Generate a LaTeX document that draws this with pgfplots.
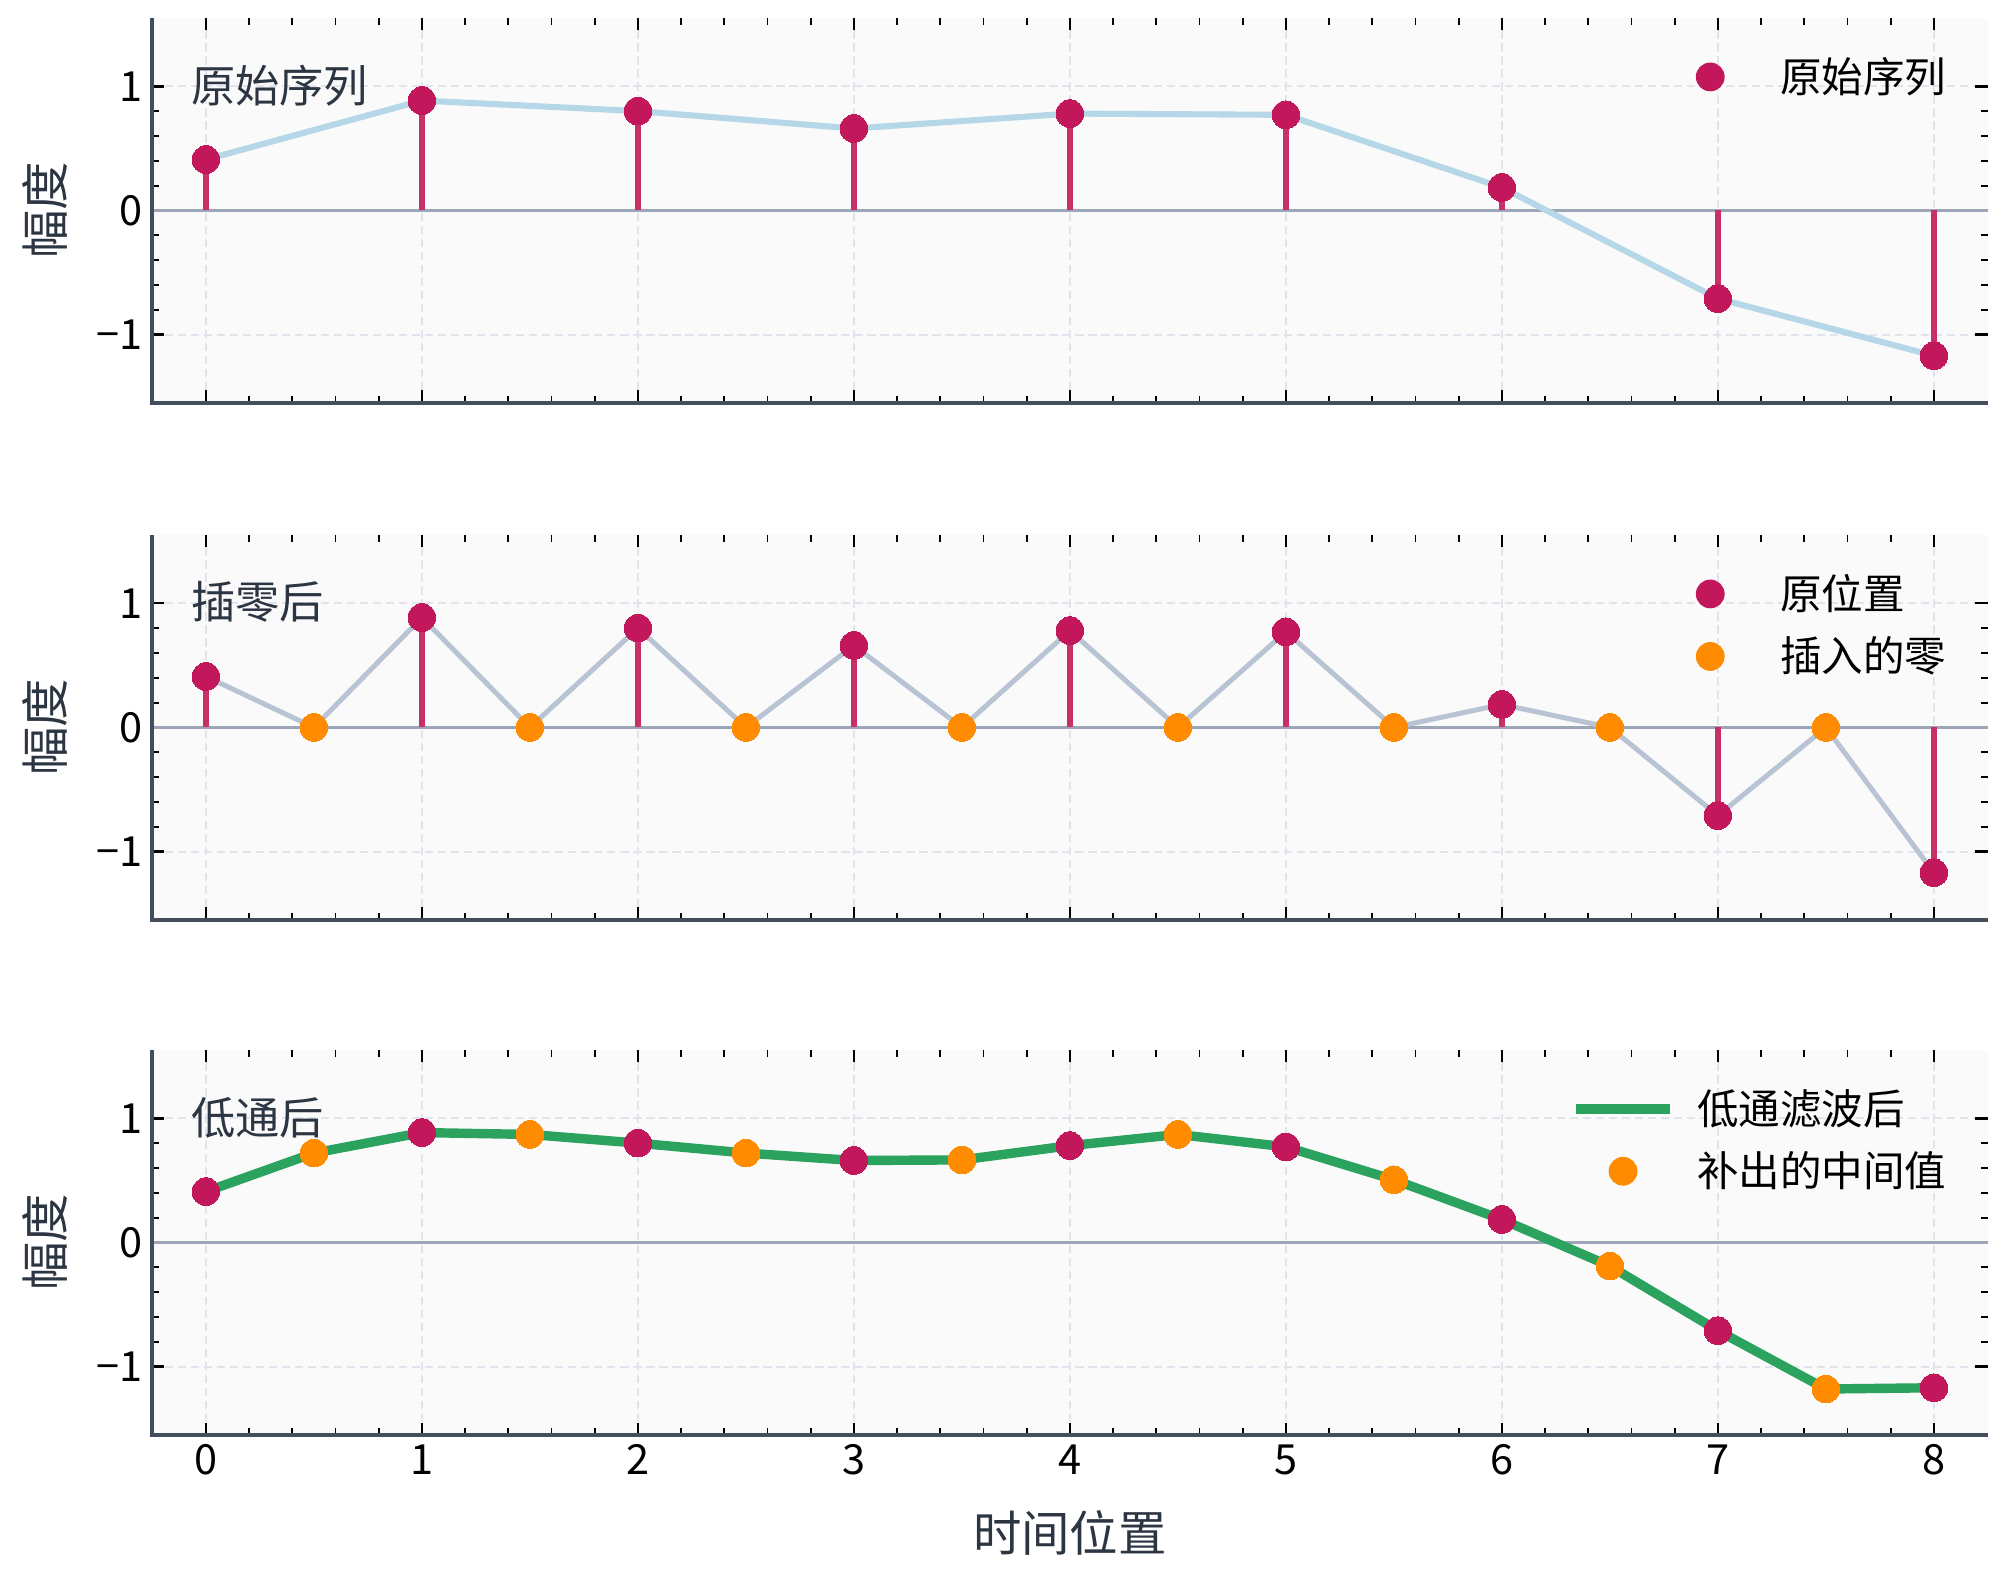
\documentclass[border=0pt]{standalone}
\usepackage{fontspec}
\setmainfont{Noto Sans CJK SC}
\usepackage{pgfplots}
\usepackage{pgfplotstable}
\pgfplotsset{compat=1.18}

\definecolor{crim}{HTML}{C2185B}
\definecolor{stemc}{HTML}{C83069}
\definecolor{origline}{HTML}{B5D7E8}
\definecolor{zeroline}{HTML}{B8C3D3}
\definecolor{lowc}{HTML}{2CA25F}
\definecolor{orng}{HTML}{FF8C00}
\definecolor{basec}{HTML}{9CA6B6}
\definecolor{gridc}{HTML}{E1E4ED}
\definecolor{spinec}{HTML}{434D5C}
\definecolor{bgc}{HTML}{FAFAFB}
\definecolor{labc}{HTML}{2C3542}

% original samples
\pgfplotstableread{
x y
0 0.41
1 0.885
2 0.80
3 0.66
4 0.78
5 0.77
6 0.185
7 -0.71
8 -1.17
}\orig

% inserted zeros
\pgfplotstableread{
x y
0.5 0
1.5 0
2.5 0
3.5 0
4.5 0
5.5 0
6.5 0
7.5 0
}\zeros

% upsampled sequence (samples interleaved with zeros)
\pgfplotstableread{
x y
0 0.41
0.5 0
1 0.885
1.5 0
2 0.80
2.5 0
3 0.66
3.5 0
4 0.78
4.5 0
5 0.77
5.5 0
6 0.185
6.5 0
7 -0.71
7.5 0
8 -1.17
}\upsampled

% low-pass output
\pgfplotstableread{
x y
0 0.41
0.5 0.72
1 0.885
1.5 0.87
2 0.80
2.5 0.72
3 0.66
3.5 0.665
4 0.78
4.5 0.87
5 0.77
5.5 0.505
6 0.185
6.5 -0.19
7 -0.71
7.5 -1.18
8 -1.17
}\lowpass

% interpolated mid points of the low-pass output
\pgfplotstableread{
x y
0.5 0.72
1.5 0.87
2.5 0.72
3.5 0.665
4.5 0.87
5.5 0.505
6.5 -0.19
7.5 -1.18
}\midpts

\pgfplotsset{
  panel/.style={
    scale only axis, width=663.4pt, height=139.1pt,
    xmin=-0.25, xmax=8.25, ymin=-1.55, ymax=1.55,
    xtick={0,...,8}, ytick={-1,0,1},
    yticklabels={−1,0,1},
    minor x tick num=4, minor y tick num=4,
    tick align=inside, tick pos=both,
    xticklabel pos=lower, yticklabel pos=left,
    major tick length=4.5pt, minor tick length=2.4pt,
    every major tick/.append style={line width=0.9pt, black},
    every minor tick/.append style={line width=0.7pt, black},
    axis line style={draw=none},
    axis background/.style={fill=bgc},
    grid=major,
    major grid style={gridc, line width=0.8pt, dash pattern=on 3pt off 1.7pt},
    tick label style={font=\fontsize{15}{18}\selectfont, text=black},
    every axis y label/.style={at={([xshift=-38.7pt]axis description cs:0,0.5)}, anchor=center, rotate=90, font=\fontsize{17.5}{21}\selectfont, text=labc},
    ylabel={幅度},
    clip=false,
    legend cell align=left,
    legend style={at={(rel axis cs:0.9852,0.928)}, anchor=north east, draw=none, fill=none,
      font=\fontsize{15}{18}\selectfont, row sep=4.4pt},
  },
  dotleg/.style={legend image code/.code={\path (0pt,0pt) (40pt,0pt); \fill[#1] (16.9pt,0pt) circle (5pt);}},
  dots/.style={only marks, mark=*, mark size=5pt, mark options={fill=#1, draw=#1, line width=0pt}},
}

\newcommand{\panelframe}{%
  \addplot[basec, line width=1.1pt, forget plot] coordinates {(-0.25,0) (8.25,0)};
  \draw[spinec, line width=1.6pt] (rel axis cs:0,1) -- (rel axis cs:0,0) -- (rel axis cs:1,0);
}

\begin{document}
\begin{tikzpicture}
% page frame
\path (-54.9pt,6.5pt) rectangle (670.3pt,-565.2pt);

% top panel: original sequence
\begin{axis}[panel, at={(0pt,0pt)}, anchor=north west, xticklabels={}]
  \panelframe
  \addplot[origline, line width=2.2pt, forget plot] table[x=x,y=y] {\orig};
  \addplot[ycomb, stemc, line width=2.4pt, forget plot] table[x=x,y=y] {\orig};
  \addplot[dots=crim, dotleg=crim] table[x=x,y=y] {\orig};
  \addlegendentry{原始序列}
  \node[anchor=west, inner sep=0pt, font=\fontsize{16}{19}\selectfont, text=labc] at (rel axis cs:0.021,0.825) {原始序列};
\end{axis}

% middle panel: zero insertion
\begin{axis}[panel, at={(0pt,-186.8pt)}, anchor=north west, xticklabels={}]
  \panelframe
  \addplot[zeroline, line width=1.8pt, forget plot] table[x=x,y=y] {\upsampled};
  \addplot[ycomb, stemc, line width=2.4pt, forget plot] table[x=x,y=y] {\orig};
  \addplot[dots=orng, forget plot] table[x=x,y=y] {\zeros};
  \addplot[dots=crim, dotleg=crim] table[x=x,y=y] {\orig};
  \addlegendentry{原位置}
  \addlegendimage{dots=orng, dotleg=orng}
  \addlegendentry{插入的零}
  \node[anchor=west, inner sep=0pt, font=\fontsize{16}{19}\selectfont, text=labc] at (rel axis cs:0.021,0.825) {插零后};
\end{axis}

% bottom panel: low-pass result
\begin{axis}[panel, at={(0pt,-372.9pt)}, anchor=north west,
  xticklabels={0,1,2,3,4,5,6,7,8},
  xlabel={时间位置},
  every axis x label/.style={at={([yshift=-35.4pt]axis description cs:0.5,0)}, anchor=center, font=\fontsize{17.5}{21}\selectfont, text=labc},
  ]
  \panelframe
  \addplot[lowc, line width=3.4pt, legend image code/.code={\draw[lowc, line width=3.4pt] (0pt,0pt) -- (33.8pt,0pt); \path (40pt,0pt);}] table[x=x,y=y] {\lowpass};
  \addlegendentry{低通滤波后}
  \addplot[dots=crim, forget plot] table[x=x,y=y] {\orig};
  \addplot[dots=orng, dotleg=orng] table[x=x,y=y] {\midpts};
  \addlegendentry{补出的中间值}
  \node[anchor=west, inner sep=0pt, font=\fontsize{16}{19}\selectfont, text=labc] at (rel axis cs:0.021,0.825) {低通后};
\end{axis}
\end{tikzpicture}
\end{document}
